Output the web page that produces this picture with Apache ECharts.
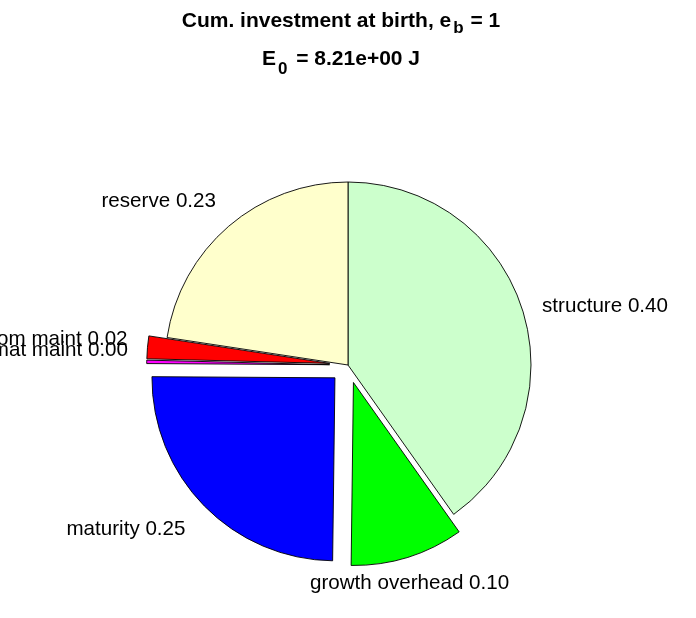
<!DOCTYPE html>
<html><head><meta charset="utf-8">
<script src="https://cdn.jsdelivr.net/npm/echarts@6/dist/echarts.min.js"></script>
<style>html,body{margin:0;padding:0;background:#fff}#c{width:696px;height:618px}</style>
</head><body><div id="c"></div>
<script>
// ---- data ----
const categories = ['structure', 'growth overhead', 'maturity', 'mat maint', 'som maint', 'reserve'];
const fractions  = [0.402, 0.100, 0.249, 0.003, 0.020, 0.226];
const exploded   = [false, true, true, true, true, false];
const titleMain  = 'Cum. investment at birth, e';
const titleSub1  = 'b';
const titleEnd1  = ' = 1';
const energyHead = 'E';
const energySub  = '0';
const energyText = ' = 8.21e+00 J';

// ---- styling (not data) ----
const sliceColors = ['#CCFFCC', '#00FF00', '#0000FF', '#FF00FF', '#FF0000', '#FFFFCC'];
const labelNudge  = [[-2.5, 2], [-8.6, 9], [-1, 10.5], [4.3, -11.5], [3, -6], [4, -11]];
const labelAlign  = [null, 'center', null, null, null, null];
const FONT = '"Liberation Sans", Arial, Helvetica, sans-serif';

const chart = echarts.init(document.getElementById('c'), null, {renderer: 'canvas'});

const pieData = categories.map((name, i) => ({
  name: name,
  value: fractions[i],
  selected: exploded[i],
  itemStyle: {color: sliceColors[i]},
  select: {itemStyle: {color: sliceColors[i], borderColor: '#000', borderWidth: 0.9}}
}));

chart.setOption({
  animation: false,
  backgroundColor: '#ffffff',
  title: {
    text: '{m|' + titleMain + '}{s1|' + titleSub1 + '}{m|' + titleEnd1 + '}\n' +
          '{m|' + energyHead + '}{s2|' + energySub + '}{m|' + energyText + '}',
    left: 341,
    textAlign: 'center',
    top: 2,
    padding: 0,
    textStyle: {
      rich: {
        m:  {fontFamily: FONT, fontSize: 21, fontWeight: 'bold', color: '#000', lineHeight: 38},
        s1: {fontFamily: FONT, fontSize: 17, fontWeight: 'bold', color: '#000', padding: [15, 1, 0, 2]},
        s2: {fontFamily: FONT, fontSize: 17, fontWeight: 'bold', color: '#000', padding: [21, 3, 0, 2]}
      }
    }
  },
  series: [{
    type: 'pie',
    center: [348, 365],
    radius: 183,
    startAngle: 90,
    clockwise: true,
    selectedMode: 'multiple',
    selectedOffset: 18.3,
    avoidLabelOverlap: false,
    minAngle: 0,
    stillShowZeroSum: true,
    itemStyle: {borderColor: '#000', borderWidth: 0.9},
    emphasis: {disabled: true},
    label: {
      show: true,
      position: 'outside',
      fontFamily: FONT,
      fontSize: 20.6,
      color: '#000',
      distanceToLabelLine: 5,
      formatter: p => p.name + ' ' + p.value.toFixed(2)
    },
    labelLine: {show: false, length: 18, length2: 0},
    labelLayout: function (params) {
      const n = labelNudge[params.dataIndex];
      const out = {dx: n[0], dy: n[1]};
      if (labelAlign[params.dataIndex]) out.align = labelAlign[params.dataIndex];
      return out;
    },
    data: pieData
  }]
});
</script>
</body></html>
